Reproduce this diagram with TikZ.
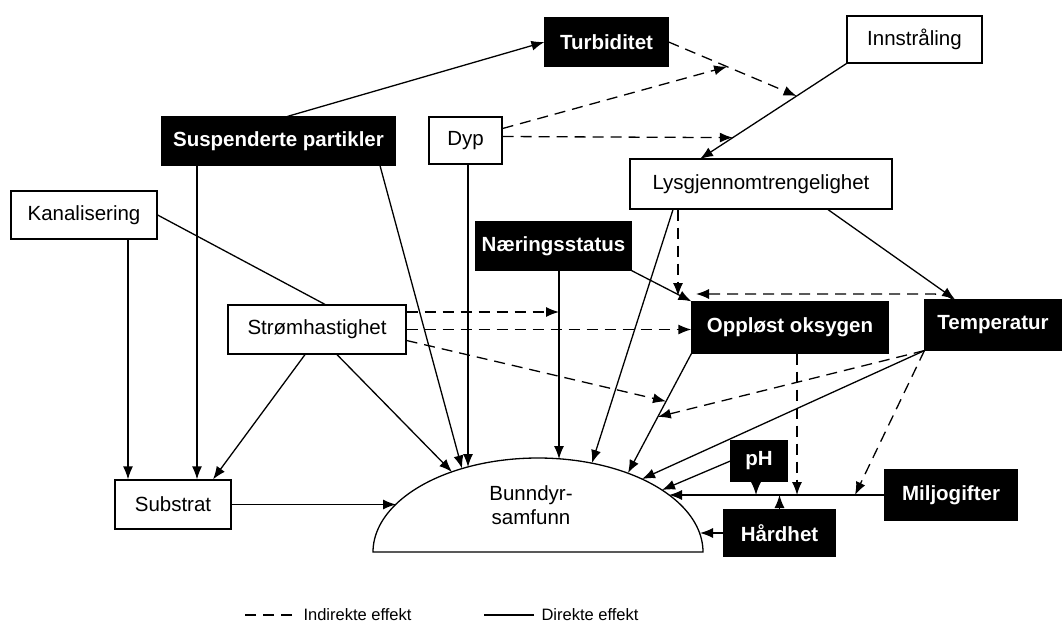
\documentclass[tikz,border=0pt]{standalone}
\usepackage{fontspec}
\setmainfont{Liberation Sans}
\usetikzlibrary{arrows.meta,calc,positioning}

\tikzset{
  lbox/.style={draw, line width=1.2pt, fill=white, inner sep=0pt, font=\fontsize{20.5}{24}\selectfont},
  dbox/.style={draw, line width=1.2pt, fill=black, text=white, inner sep=0pt, font=\fontsize{20.5}{24}\selectfont\bfseries},
  dir/.style={line width=1.3pt, -{Latex[length=13pt,width=10pt]}},
  ind/.style={dir, dash pattern=on 11pt off 7pt},
}

\begin{document}
\begin{tikzpicture}[x=1pt, y=-1pt]
        \useasboundingbox (0,0) rectangle (1062,628);

        % Top row
        \node[dbox, minimum width=123, minimum height=48] (turb) at (606.5,42) {Turbiditet};
        \node[lbox, minimum width=135, minimum height=47] (innst) at (914.5,39.5) {Innstråling};
        \node[dbox, minimum width=233, minimum height=48] (susp) at (278.5,141) {Suspenderte partikler};
        \node[lbox, minimum width=73, minimum height=47] (dyp) at (465.5,140.5) {Dyp};
        \node[lbox, minimum width=262, minimum height=50] (lys) at (761,184) {Lysgjennomtrengelighet};

        % Middle row
        \node[lbox, minimum width=146, minimum height=48] (kanal) at (84,215) {Kanalisering};
        \node[dbox, minimum width=155, minimum height=48] (naer) at (553.5,246) {Næringsstatus};
        \node[lbox, minimum width=178, minimum height=49] (strom) at (317,329.5) {Strømhastighet};
        \node[dbox, minimum width=196, minimum height=51] (oksy) at (790,327.5) {Oppløst oksygen};
        \node[dbox, minimum width=136, minimum height=50] (temp) at (993,325) {Temperatur};

        % Bottom row
        \node[lbox, minimum width=116, minimum height=49] (substr) at (173,504.5) {Substrat};
        \node[dbox, minimum width=56, minimum height=40] (ph) at (759,461) {pH};
        \node[dbox, minimum width=111, minimum height=46] (hard) at (779.5,533) {Hårdhet};
        \node[dbox, minimum width=132, minimum height=50] (milj) at (951,495) {Miljogifter};

        % Bunndyrsamfunn
        \draw[line width=1.3pt] plot[domain=180:0, samples=90] ({538+165*cos(\x)}, {552-94*sin(\x)}) -- cycle;
        \node[align=center, font=\fontsize{20.5}{24}\selectfont] (bunn) at (531,505) {Bunndyr-\\samfunn};

        % Points on the rim
        \coordinate (b1) at (452,472);
        \coordinate (b2) at (462,468.5);
        \coordinate (b3) at (468,467);
        \coordinate (b4) at (559,459);
        \coordinate (b5) at (592,463);
        \coordinate (b6) at (628,473);
        \coordinate (b7) at (642,479);
        \coordinate (b8) at (662,490);
        \coordinate (b9) at (669,495);
        \coordinate (b10) at (700,533);
        \coordinate (b11) at (396,504.5);

        % Points on other connectors
        \coordinate (lysin) at (700,159);
        \coordinate (lysA) at ($(innst.south west)!0.34!(lysin)$);
        \coordinate (lysB) at ($(innst.south west)!0.776!(lysin)$);
        \coordinate (turbA) at ($(turb.east)!0.457!(lysA)$);
        \coordinate (oksyB) at ($(oksy.south west)!0.40!(b6)$);
        \coordinate (oksyC) at ($(oksy.south west)!0.53!(b6)$);
        \coordinate (naerA) at (559,312);

        % Light
        \draw[dir] ([xshift=9]susp.north) -- (turb.west);
        \draw[dir] (innst.south west) -- (lysin);
        \draw[ind] (turb.east) -- (lysA);
        \draw[ind] ([yshift=12]dyp.east) -- (turbA);
        \draw[ind] ([yshift=4]dyp.east) -- (lysB);
        \draw[dir] ([xshift=67]lys.south) -- ([xshift=-38]temp.north);
        \draw[dir] ([xshift=-88]lys.south) -- (b5);
        \draw[ind] ([xshift=-83]lys.south) -- (678,296);

        % Oxygen
        \draw[dir] (naer.south east) -- (oksy.north west);
        \draw[ind] ([xshift=-40]temp.north) .. controls (945,293) and (935,294) .. (915,294) -- (696,294);
        \draw[dir] ([xshift=5.5]naer.south) -- (b4);
        \draw[ind] ([yshift=17.5]strom.east) -- (naerA);
        \draw[ind] (strom.east) -- (strom.east -| oksy.west);
        \draw[ind] ([yshift=-11]strom.east) -- (oksyB);
        \draw[ind] (temp.south west) -- (oksyC);
        \draw[dir] (oksy.south west) -- (b6);

        % Left side
        \draw[dir] ([xshift=44]kanal.south) -- ([xshift=44]kanal.south |- substr.north);
        \draw[dir] ([xshift=-81.5]susp.south) -- ([xshift=-81.5]susp.south |- substr.north);
        \draw[line width=1.3pt] (kanal.east) -- ([xshift=8]strom.north);
        \draw[dir] ([xshift=-12]strom.south) -- ([xshift=40]substr.north);
        \draw[dir] ([xshift=20]strom.south) -- (b1);
        \draw[dir] ([xshift=101.5]susp.south) -- (b2);
        \draw[dir] ([xshift=2.5]dyp.south) -- (b3);
        \draw[dir] (substr.east) -- (b11);

        % Right side
        \draw[dir] (temp.south west) -- (b7);
        \draw[dir] (ph.west) -- (b8);
        \draw[dir] (milj.west) -- (b9);
        \draw[dir] (hard.west) -- (b10);
        \draw[dir] ([xshift=-3]ph.south) -- ([xshift=-3]ph.south |- milj.west);
        \draw[dir] (hard.north) -- (hard.north |- milj.west);
        \draw[ind] ([xshift=7]oksy.south) -- ([xshift=7]oksy.south |- milj.west);
        \draw[ind] (temp.south west) -- (855,495);

        % Legend
        \node[anchor=west, font=\fontsize{16.5}{19}\selectfont] (indtxt) at (300,615) {Indirekte effekt};
        \node[anchor=west, font=\fontsize{16.5}{19}\selectfont] (dirtxt) at (538,615) {Direkte effekt};
        \draw[line width=1.3pt, dash pattern=on 11pt off 7pt] ([xshift=-8]indtxt.west) -- ++(-47,0);
        \draw[line width=1.3pt] ([xshift=-4]dirtxt.west) -- ++(-50,0);
    \end{tikzpicture}
\end{document}
